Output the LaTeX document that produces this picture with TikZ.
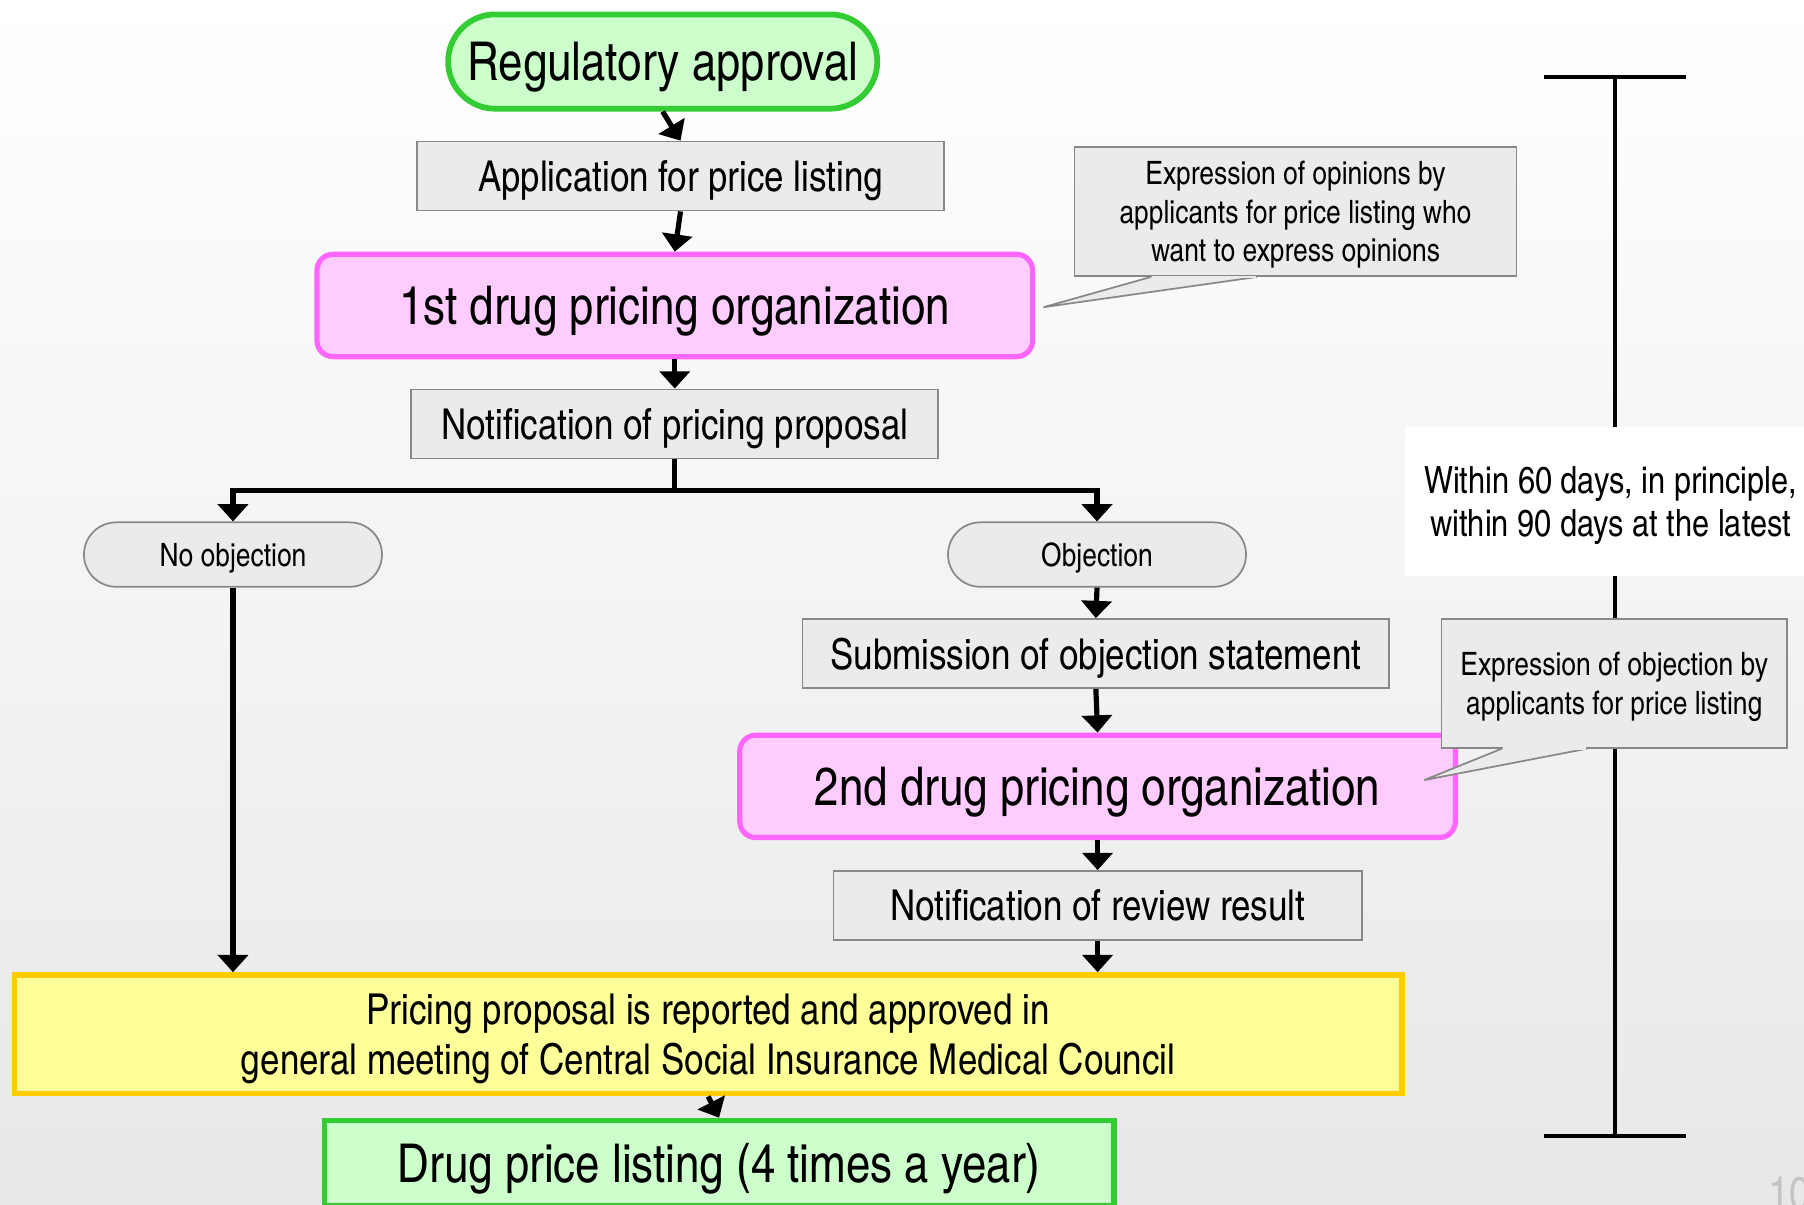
\documentclass[tikz,border=0pt]{standalone}
\usepackage{xcolor}
\usepackage{fontspec}
\setmainfont{texgyreheroscn-regular.otf}
\usepackage{tikz}
\usetikzlibrary{positioning,calc,arrows.meta}

\definecolor{approvegreen}{HTML}{33CC33}
\definecolor{approvefill}{HTML}{CCFFCC}
\definecolor{orgpink}{HTML}{FF66FF}
\definecolor{orgfill}{HTML}{FFCCFF}
\definecolor{stepgray}{HTML}{EBEBEB}
\definecolor{stepline}{HTML}{888888}
\definecolor{councilfill}{HTML}{FFFF99}
\definecolor{councilline}{HTML}{FFCC00}
\definecolor{bgbottom}{HTML}{E8E8E8}
\definecolor{pagegray}{HTML}{C4C4C4}

\tikzset{
	stepbox/.style={draw=stepline, fill=stepgray, line width=1.5pt, minimum height=60pt, inner sep=0pt, text depth=0pt, font=\fontsize{37}{41}\selectfont},
	orgbox/.style={draw=orgpink, fill=orgfill, line width=4.5pt, rounded corners=14pt, minimum width=622pt, minimum height=89pt, inner sep=0pt, text depth=0pt, font=\fontsize{46.5}{51}\selectfont},
	endbox/.style={draw=approvegreen, fill=approvefill, line width=5pt, inner sep=0pt, text depth=0pt, font=\fontsize{46.5}{51}\selectfont},
	choice/.style={draw=stepline, fill=stepgray, line width=1.5pt, rounded corners=28pt, minimum width=259pt, minimum height=56pt, inner sep=0pt, text depth=0pt, font=\fontsize{28}{32}\selectfont},
	note/.style={draw=stepline, fill=stepgray, line width=1.5pt, align=center, inner sep=0pt, text depth=0pt, font=\fontsize{28}{33.5}\selectfont},
	tail/.style={draw=stepline, fill=stepgray, line width=1.5pt},
	flow/.style={line width=4.5pt, -{Triangle[width=26pt,length=15pt]}},
	bar/.style={line width=3.5pt},
}

\begin{document}
\begin{tikzpicture}[x=1pt, y=-1pt]
						\useasboundingbox (0,0) rectangle (1568,1047);
						\shade[top color=white, bottom color=bgbottom] (0,0) rectangle (1568,1047);

						\coordinate (spantop) at (1404,67);
						\coordinate (spanbot) at (1404,987);
						\draw[bar] ([xshift=-62pt]spantop) -- ([xshift=61pt]spantop);
						\draw[bar] ([xshift=-62pt]spanbot) -- ([xshift=61pt]spanbot);
						\draw[bar] (spantop) -- (spanbot);
						\node[fill=white, minimum width=358pt, minimum height=130pt, align=center, text depth=0pt, font=\fontsize{32.6}{38}\selectfont] (span) at (1400,436) {Within 60 days, in principle,\\within 90 days at the latest};

						\node[endbox, rounded corners=41pt, minimum width=373pt, minimum height=82pt] (reg) at (576,53.5) {Regulatory approval};
						\node[stepbox, minimum width=458pt] (app) at (591.5,153) {Application for price listing};
						\node[orgbox] (org1) at (586.5,265.5) {1st drug pricing organization};
						\node[stepbox, minimum width=458pt] (proposal) at (586.5,368.5) {Notification of pricing proposal};
						\node[choice] (noobj) at (202.5,482) {No objection};
						\node[choice] (obj) at (953.5,482) {Objection};
						\node[stepbox, minimum width=510pt] (statement) at (952.5,568) {Submission of objection statement};
						\node[orgbox] (org2) at (954,683.5) {2nd drug pricing organization};
						\node[stepbox, minimum width=459pt] (review) at (954,787) {Notification of review result};
						\node[draw=councilline, fill=councilfill, line width=5pt, minimum width=1206pt, minimum height=103pt, align=center, text depth=0pt, font=\fontsize{37}{43}\selectfont] (council) at (615.5,899) {Pricing proposal is reported and approved in\\general meeting of Central Social Insurance Medical Council};
						\node[endbox, minimum width=686pt, minimum height=74pt] (listing) at (625,1011) {Drug price listing (4 times a year)};

						\coordinate (split) at (586.5,426);
						\draw[flow] (reg.south) -- (app.north);
						\draw[flow] (app.south) -- (org1.north);
						\draw[flow] (org1.south) -- (proposal.north);
						\draw[line width=4.5pt] (proposal.south) -- (split);
						\draw[flow] (split) -| (noobj.north);
						\draw[flow] (split) -| (obj.north);
						\draw[flow] (obj.south) -- (statement.north);
						\draw[flow] (statement.south) -- (org2.north);
						\draw[flow] (org2.south) -- (review.north);
						\draw[flow] (review.south) -- (review.south |- council.north);
						\draw[flow] (noobj.south) -- (noobj.south |- council.north);
						\draw[flow] (council.south) -- (listing.north);

						\node[note, minimum width=384pt, minimum height=112pt] (opinion) at (1126,184) {Expression of opinions by\\applicants for price listing who\\want to express opinions};
						\coordinate (opiniontip) at (907,267);
						\filldraw[tail] ([xshift=67pt]opinion.south west) -- (opiniontip) -- ([xshift=159pt]opinion.south west);
						\fill[stepgray] ([xshift=68pt,yshift=-1.2pt]opinion.south west) rectangle ([xshift=158pt,yshift=1.2pt]opinion.south west);

						\node[note, minimum width=300pt, minimum height=112pt] (objection) at (1403,594) {Expression of objection by\\applicants for price listing};
						\coordinate (objectiontip) at (1238,678);
						\filldraw[tail] ([xshift=53pt]objection.south west) -- (objectiontip) -- ([xshift=127pt]objection.south west);
						\fill[stepgray] ([xshift=54pt,yshift=-1.2pt]objection.south west) rectangle ([xshift=126pt,yshift=1.2pt]objection.south west);

						\node[anchor=north west, text=pagegray, inner sep=0pt, font=\fontsize{40}{44}\selectfont] (page) at (1537,1023) {10};
					\end{tikzpicture}
\end{document}
